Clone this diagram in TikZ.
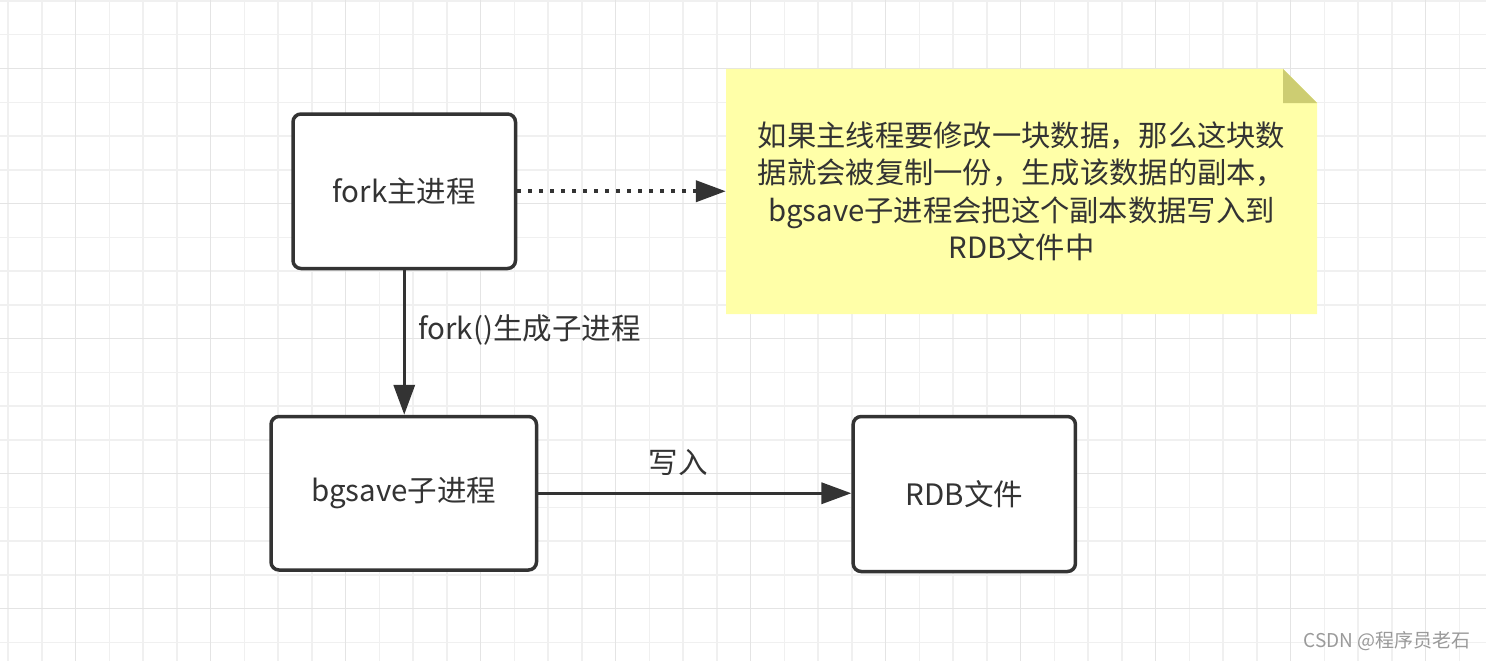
\documentclass[tikz,border=0pt]{standalone}
\usepackage{fontspec}
\setmainfont{Noto Sans CJK SC}
\usetikzlibrary{arrows.meta}
\definecolor{ink}{HTML}{333333}
\definecolor{gridminor}{HTML}{F0F0F0}
\definecolor{gridmajor}{HTML}{E4E4E4}
\definecolor{notefill}{HTML}{FFFFA8}
\definecolor{notefold}{HTML}{CDCD72}
\definecolor{wm}{HTML}{9A9A9A}
\tikzset{
  procbox/.style={draw=ink, line width=3.5pt, rounded corners=8pt, fill=white,
    inner sep=0pt, text=ink, font=\fontsize{29.5}{35}\selectfont},
  conn/.style={draw=ink, line width=3.5pt, -{Triangle[length=30pt,width=21pt]}},
  dotconn/.style={draw=ink, line width=4pt, dash pattern=on 4pt off 7pt,
    -{Triangle[length=30pt,width=21pt]}},
  lbl/.style={text=ink, inner sep=0pt, font=\fontsize{29.5}{35}\selectfont},
}
\begin{document}
\begin{tikzpicture}[x=1pt,y=-1pt]
\useasboundingbox (0,0) rectangle (1486,661);
\fill[white] (0,0) rectangle (1486,661);
% grid
\foreach \i in {0,...,44} {
  \pgfmathsetmacro{\gx}{8+33.75*\i}
  \draw[gridminor, line width=1.5pt] (\gx,0) -- (\gx,661);
}
\foreach \i in {0,...,19} {
  \pgfmathsetmacro{\gy}{1+33.75*\i}
  \draw[gridminor, line width=1.5pt] (0,\gy) -- (1486,\gy);
}
\foreach \i in {2,6,...,42} {
  \pgfmathsetmacro{\gx}{8+33.75*\i}
  \draw[gridmajor, line width=1.5pt] (\gx,0) -- (\gx,661);
}
\foreach \i in {2,6,...,18} {
  \pgfmathsetmacro{\gy}{1+33.75*\i}
  \draw[gridmajor, line width=1.5pt] (0,\gy) -- (1486,\gy);
}
% note shape
\fill[notefill] (726,69) -- (1283,69) -- (1317,103) -- (1317,314) -- (726,314) -- cycle;
\fill[notefold] (1283,69) -- (1317,103) -- (1283,103) -- cycle;
\node[lbl, align=center, font=\fontsize{29.3}{37.5}\selectfont,
      minimum width=591pt, minimum height=245pt] (note) at (1021.5,191.5)
  {如果主线程要修改一块数据，那么这块数\\据就会被复制一份，生成该数据的副本，\\bgsave子进程会把这个副本数据写入到\\RDB文件中};
% boxes
\node[procbox, minimum width=222.5pt, minimum height=154.5pt] (fork) at (404.25,191.25) {fork主进程};
\node[procbox, minimum width=265.5pt, minimum height=153.5pt] (bgsave) at (403.75,493.25) {bgsave子进程};
\node[procbox, minimum width=222.3pt, minimum height=155pt] (rdb) at (964.3,494) {RDB文件};
% connectors
\draw[dotconn] (fork.east) -- (fork.east -| note.west);
\draw[conn] (fork.south) -- (fork.south |- bgsave.north);
\draw[conn] (bgsave.east) -- (bgsave.east -| rdb.west);
% labels
\node[lbl, anchor=west] (l1) at (418,330) {fork()生成子进程};
\node[lbl] (l2) at (678,462) {写入};
% watermark
\node[text=wm, inner sep=0pt, anchor=east, font=\fontsize{19}{22}\selectfont] (wmark) at (1471,641) {CSDN @程序员老石};
\end{tikzpicture}
\end{document}
